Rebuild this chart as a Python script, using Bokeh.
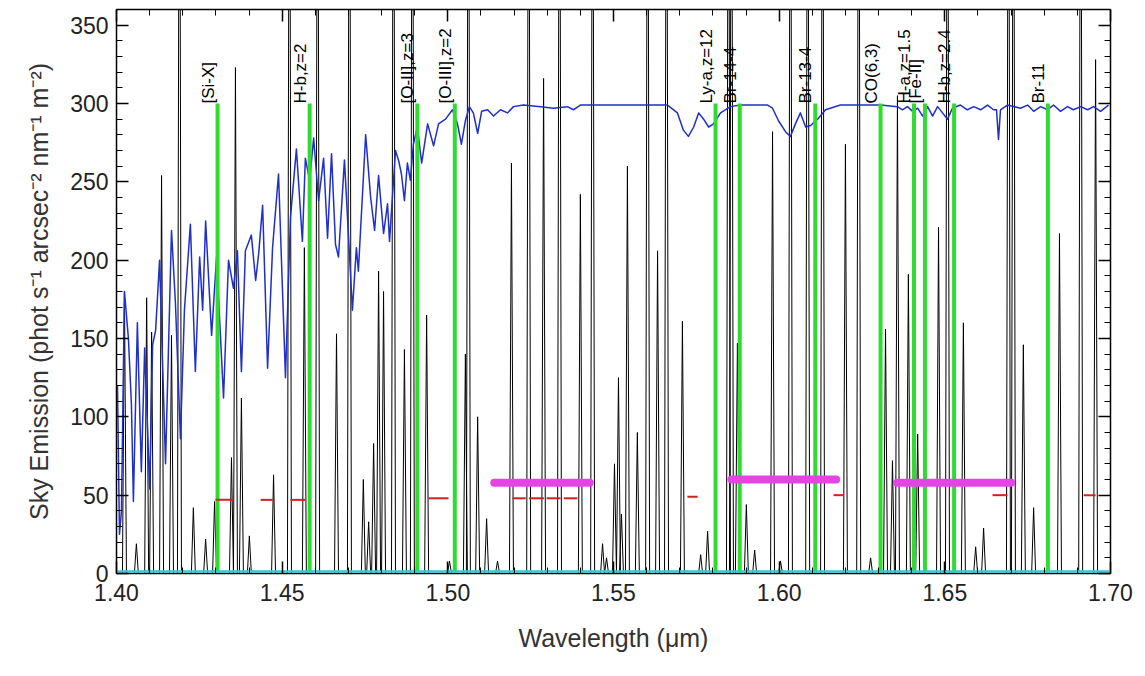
from math import pi
from bokeh.plotting import figure
from bokeh.models import LinearAxis, FixedTicker, NumeralTickFormatter, Range1d, CustomJSTickFormatter
from bokeh.core.properties import value
from bokeh.embed import file_html
from bokeh.resources import INLINE

# ---------------- data ----------------
# OH sky emission lines: wavelength (um) and peak (phot s^-1 arcsec^-2 nm^-1 m^-2)
line_wl = [1.4024, 1.4060, 1.4091, 1.4106, 1.4136, 1.4166, 1.4190, 1.4232, 1.4269, 1.4296,
           1.4347, 1.4359, 1.4377, 1.4401, 1.4474, 1.4522, 1.4567, 1.4607, 1.4664, 1.4703,
           1.4745, 1.4761, 1.4776, 1.4791, 1.4806, 1.4836, 1.4869, 1.4893, 1.4936, 1.5005,
           1.5053, 1.5062, 1.5090, 1.5117, 1.5150, 1.5192, 1.5244, 1.5289, 1.5337, 1.5400,
           1.5437, 1.5467, 1.5479, 1.5503, 1.5515, 1.5524, 1.5542, 1.5572, 1.5603, 1.5633,
           1.5660, 1.5708, 1.5763, 1.5784, 1.5847, 1.5856, 1.5874, 1.5901, 1.5926, 1.5980,
           1.6004, 1.6034, 1.6086, 1.6131, 1.6200, 1.6240, 1.6276, 1.6321, 1.6342, 1.6357,
           1.6390, 1.6418, 1.6481, 1.6508, 1.6556, 1.6593, 1.6617, 1.6692, 1.6707, 1.6737,
           1.6768, 1.6846, 1.6910, 1.6955]
line_peak = [180, 19, 176, 154, 254, 152, 600, 42, 22, 46,
             74, 323, 112, 24, 63, 600, 208, 600, 153, 600,
             60, 33, 83, 193, 180, 600, 143, 600, 165, 8,
             140, 600, 100, 35, 8, 262, 600, 316, 600, 242,
             600, 19, 10, 70, 125, 38, 260, 90, 600, 206,
             600, 161, 12, 27, 600, 600, 147, 44, 15, 282,
             8, 600, 600, 600, 274, 600, 10, 156, 72, 305,
             191, 89, 221, 600, 160, 17, 29, 600, 600, 146,
             42, 217, 600, 328]

# atmospheric transmission (scaled x300)
trans_wl = [1.4003, 1.4009, 1.4015, 1.4024, 1.4036, 1.4045, 1.4051, 1.4063, 1.4075, 1.4085,
            1.4100, 1.4109, 1.4118, 1.4130, 1.4148, 1.4166, 1.4178, 1.4193, 1.4205, 1.4223,
            1.4238, 1.4251, 1.4260, 1.4269, 1.4287, 1.4302, 1.4323, 1.4338, 1.4353, 1.4365,
            1.4377, 1.4389, 1.4407, 1.4420, 1.4429, 1.4441, 1.4456, 1.4471, 1.4489, 1.4510,
            1.4525, 1.4543, 1.4561, 1.4570, 1.4583, 1.4595, 1.4610, 1.4625, 1.4637, 1.4649,
            1.4661, 1.4670, 1.4688, 1.4712, 1.4724, 1.4730, 1.4752, 1.4767, 1.4779, 1.4791,
            1.4806, 1.4818, 1.4824, 1.4842, 1.4851, 1.4860, 1.4869, 1.4878, 1.4887, 1.4896,
            1.4908, 1.4921, 1.4939, 1.4957, 1.4972, 1.4993, 1.5014, 1.5029, 1.5041, 1.5053,
            1.5065, 1.5077, 1.5090, 1.5102, 1.5120, 1.5138, 1.5159, 1.5180, 1.5198, 1.5228,
            1.5280, 1.5319, 1.5361, 1.5379, 1.5400, 1.5461, 1.5603, 1.5663, 1.5693, 1.5711,
            1.5726, 1.5742, 1.5757, 1.5772, 1.5787, 1.5802, 1.5823, 1.5853, 1.5883, 1.5965,
            1.5980, 1.5998, 1.6019, 1.6034, 1.6049, 1.6064, 1.6080, 1.6095, 1.6116, 1.6140,
            1.6185, 1.6245, 1.6306, 1.6357, 1.6372, 1.6387, 1.6403, 1.6418, 1.6433, 1.6448,
            1.6463, 1.6478, 1.6493, 1.6508, 1.6523, 1.6547, 1.6568, 1.6587, 1.6608, 1.6629,
            1.6647, 1.6656, 1.6662, 1.6668, 1.6689, 1.6728, 1.6750, 1.6768, 1.6789, 1.6810,
            1.6828, 1.6849, 1.6870, 1.6888, 1.6910, 1.6931, 1.6949, 1.6970, 1.6994]
trans_val = [120, 25, 40, 180, 150, 108, 46, 160, 65, 144,
             54, 146, 155, 200, 70, 219, 172, 86, 168, 223,
             129, 202, 168, 225, 152, 202, 112, 200, 182, 206,
             129, 206, 216, 187, 204, 235, 131, 208, 255, 125,
             227, 271, 212, 265, 251, 278, 238, 265, 214, 268,
             210, 202, 264, 168, 208, 193, 280, 240, 219, 254,
             217, 236, 212, 270, 264, 255, 238, 262, 251, 274,
             285, 262, 287, 273, 287, 290, 296, 287, 274, 289,
             298, 294, 281, 295, 296, 292, 296, 294, 298, 299,
             298, 297, 298, 296, 299, 299, 299, 299, 294, 283,
             279, 285, 294, 290, 285, 287, 294, 298, 299, 299,
             297, 289, 282, 279, 287, 294, 285, 286, 290, 296,
             299, 299, 299, 298, 296, 298, 295, 297, 292, 298,
             292, 298, 294, 290, 297, 299, 296, 298, 296, 299,
             296, 296, 277, 296, 299, 297, 299, 295, 298, 296,
             299, 295, 298, 296, 298, 296, 298, 295, 299]

# features of interest
feat_wl = [1.4305, 1.4583, 1.4908, 1.5021, 1.5808, 1.5881, 1.6109, 1.6306, 1.6407, 1.6440, 1.6528, 1.6811]
feat_label = ["[Si-X]", "H-b,z=2", "[O-II],z=3", "[O-III],z=2", "Ly-a,z=12", "Br-14-4",
              "Br-13-4", "CO(6,3)", "H-a,z=1.5", "[Fe-II]", "H-b,z=2.4", "Br-11"]
feat_level = [300] * len(feat_wl)

# windows (magenta bars)
band_start = [1.5140, 1.5856, 1.6356]
band_end = [1.5428, 1.6172, 1.6700]
band_level = [58, 60, 58]

# inter-line continuum (red)
red_start = [1.4299, 1.4435, 1.4525, 1.4942, 1.5195, 1.5245, 1.5298, 1.5350, 1.5723, 1.6164, 1.6644, 1.6919]
red_end = [1.4353, 1.4471, 1.4570, 1.5002, 1.5235, 1.5290, 1.5340, 1.5391, 1.5754, 1.6194, 1.6689, 1.6955]
red_level = [47, 47, 47, 48, 48, 48, 48, 48, 49, 50, 50, 50]

# continuum (cyan)
cont_wl = [1.40, 1.70]
cont_val = [1.2, 1.2]

# tick positions
x_major = [1.40, 1.45, 1.50, 1.55, 1.60, 1.65, 1.70]
y_major = [0, 50, 100, 150, 200, 250, 300, 350]

# ---------------- build spectrum path ----------------
hw = 0.0006
spec_x, spec_y = [1.40], [0]
for c, h in sorted(zip(line_wl, line_peak)):
    spec_x += [c - hw, c, c + hw]
    spec_y += [0, h, 0]
spec_x.append(1.70)
spec_y.append(0)

x_minor = [round(1.40 + 0.01 * i, 2) for i in range(31)]
y_minor = [10 * i for i in range(37)]

FONT = "Liberation Sans"

p = figure(width=1145, height=676, x_range=Range1d(1.40, 1.70), y_range=Range1d(0, 360),
           output_backend="svg", toolbar_location=None,
           min_border_left=116, min_border_right=35, min_border_top=9, min_border_bottom=103)
p.background_fill_color = "white"
p.border_fill_color = "white"
p.grid.visible = False
p.outline_line_color = "black"
p.outline_line_width = 1.5

p.line(spec_x, spec_y, line_color="black", line_width=1)
p.line(trans_wl, trans_val, line_color="#1f2fc8", line_width=1.5, line_join="round")
p.segment(x0=feat_wl, y0=[0] * len(feat_wl), x1=feat_wl, y1=feat_level, line_color="#2edb2e", line_width=4)
p.text(x=feat_wl, y=feat_level, text=feat_label, angle=pi / 2, text_align="left", text_baseline="bottom",
       text_font=value(FONT), text_font_size="17px", text_color="black")
p.segment(x0=red_start, y0=red_level, x1=red_end, y1=red_level, line_color="#d42020", line_width=2)
p.segment(x0=band_start, y0=band_level, x1=band_end, y1=band_level, line_color="#e444e4",
          line_width=8, line_cap="round")
p.line(cont_wl, cont_val, line_color="#35c5dc", line_width=2.5)

# axes
p.add_layout(LinearAxis(), "above")
p.add_layout(LinearAxis(), "right")
for ax in p.xaxis:
    ax.ticker = FixedTicker(ticks=x_major, minor_ticks=x_minor)
    ax.formatter = NumeralTickFormatter(format="0.00")
for ax in p.yaxis:
    ax.ticker = FixedTicker(ticks=y_major, minor_ticks=y_minor)
for ax in list(p.xaxis) + list(p.yaxis):
    ax.major_tick_in = 12
    ax.major_tick_out = 0
    ax.minor_tick_in = 6
    ax.minor_tick_out = 0
    ax.axis_line_color = "black"
    ax.major_tick_line_color = "black"
    ax.minor_tick_line_color = "black"
    ax.major_tick_line_width = 1.5
    ax.major_label_text_font = FONT
    ax.major_label_text_font_size = "23px"
    ax.major_label_text_color = "#222222"
    ax.axis_label_text_font = FONT
    ax.axis_label_text_font_style = "normal"
    ax.axis_label_text_font_size = "25px"
    ax.axis_label_text_color = "#333333"

top_ax = p.above[0]
right_ax = p.right[0]
for ax in (top_ax, right_ax):
    ax.formatter = CustomJSTickFormatter(code="return '';")
    ax.major_label_standoff = 0

p.below[0].major_label_standoff = 10
p.below[0].axis_label = "Wavelength (\u03bcm)"
p.below[0].axis_label_standoff = 20
p.left[0].major_label_standoff = 8
p.left[0].axis_label = "Sky Emission (phot s\u207b\u00b9 arcsec\u207b\u00b2 nm\u207b\u00b9 m\u207b\u00b2)"
p.left[0].axis_label_standoff = 14

open("out.html", "w").write(file_html(p, INLINE))
